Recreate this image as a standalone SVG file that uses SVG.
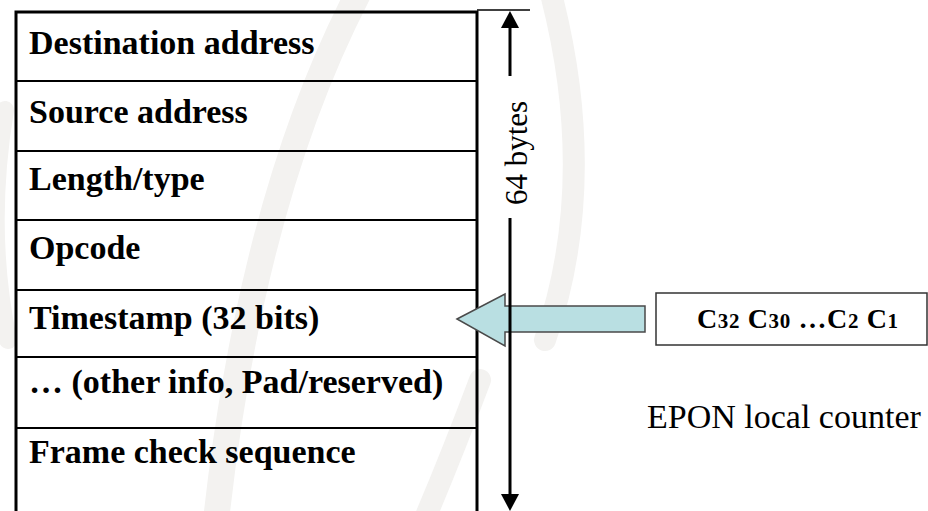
<svg xmlns="http://www.w3.org/2000/svg" width="928" height="511" viewBox="0 0 928 511">
  <style>
    .lbl { font-family: "Liberation Serif", "Times New Roman", serif; font-weight: bold; font-size: 34px; fill: #000; }
    .reg { font-family: "Liberation Serif", "Times New Roman", serif; font-size: 34px; fill: #000; }
    .row { stroke: #000; stroke-width: 2; }
    .wm { fill: none; stroke: #f3f2f0; stroke-linecap: round; }
  </style>
  <rect width="928" height="511" fill="#fff"/>
  <g id="watermark">
    <path class="wm" stroke-width="22" d="M 550 -10 Q 600 180 545 340"/>
    <path class="wm" stroke-width="26" d="M 360 -10 Q 250 200 215 530"/>
    <path class="wm" stroke-width="18" d="M 5 110 Q -15 230 8 340"/>
    <path class="wm" stroke-width="22" d="M 480 380 Q 450 460 420 530"/>
  </g>
  <g id="frame">
    <rect x="16" y="12" width="461" height="520" fill="none" stroke="#000" stroke-width="3"/>
  </g>
  <g id="row-destination">
    <text class="lbl" x="29" y="54">Destination address</text>
  </g>
  <g id="row-source">
    <line class="row" x1="16" y1="81" x2="477" y2="81"/>
    <text class="lbl" x="29" y="123">Source address</text>
  </g>
  <g id="row-length">
    <line class="row" x1="16" y1="151" x2="477" y2="151"/>
    <text class="lbl" x="29" y="190">Length/type</text>
  </g>
  <g id="row-opcode">
    <line class="row" x1="16" y1="220" x2="477" y2="220"/>
    <text class="lbl" x="29" y="259">Opcode</text>
  </g>
  <g id="row-timestamp">
    <line class="row" x1="16" y1="290" x2="477" y2="290"/>
    <text class="lbl" x="29" y="329">Timestamp (32 bits)</text>
  </g>
  <g id="row-other">
    <line class="row" x1="16" y1="357" x2="477" y2="357"/>
    <text class="lbl" x="29" y="393">… (other info, Pad/reserved)</text>
  </g>
  <g id="row-fcs">
    <line class="row" x1="16" y1="428" x2="477" y2="428"/>
    <text class="lbl" x="29" y="463">Frame check sequence</text>
  </g>
  <g id="counter">
    <rect x="656" y="293" width="271" height="52" fill="#fff" stroke="#333" stroke-width="1.5"/>
    <text x="697" y="328" textLength="201" lengthAdjust="spacing" font-family="Liberation Serif, Times New Roman, serif" font-weight="bold" font-size="28" fill="#000">C<tspan font-size="21">32</tspan> C<tspan font-size="21">30</tspan> …C<tspan font-size="21">2</tspan> C<tspan font-size="21">1</tspan></text>
  </g>
  <g id="counter-label">
    <text class="reg" x="647" y="428">EPON local counter</text>
  </g>
  <g id="connectors">
    <polygon points="457,319 505,294 505,306 645,306 645,332 505,332 505,346" fill="#b9dfe2" stroke="#4a4a4a" stroke-width="1.5"/>
    <line x1="477" y1="10" x2="530" y2="10" stroke="#000" stroke-width="1.5"/>
    <line x1="510" y1="26" x2="510" y2="76" stroke="#000" stroke-width="3"/>
    <line x1="510" y1="218" x2="510" y2="496" stroke="#000" stroke-width="3"/>
    <polygon points="510,11 501,28 519,28" fill="#000"/>
    <polygon points="510,511 501,494 519,494" fill="#000"/>
    <text transform="translate(527,153) rotate(-90)" text-anchor="middle" font-family="Liberation Serif, Times New Roman, serif" font-size="31" fill="#000">64 bytes</text>
  </g>
</svg>
